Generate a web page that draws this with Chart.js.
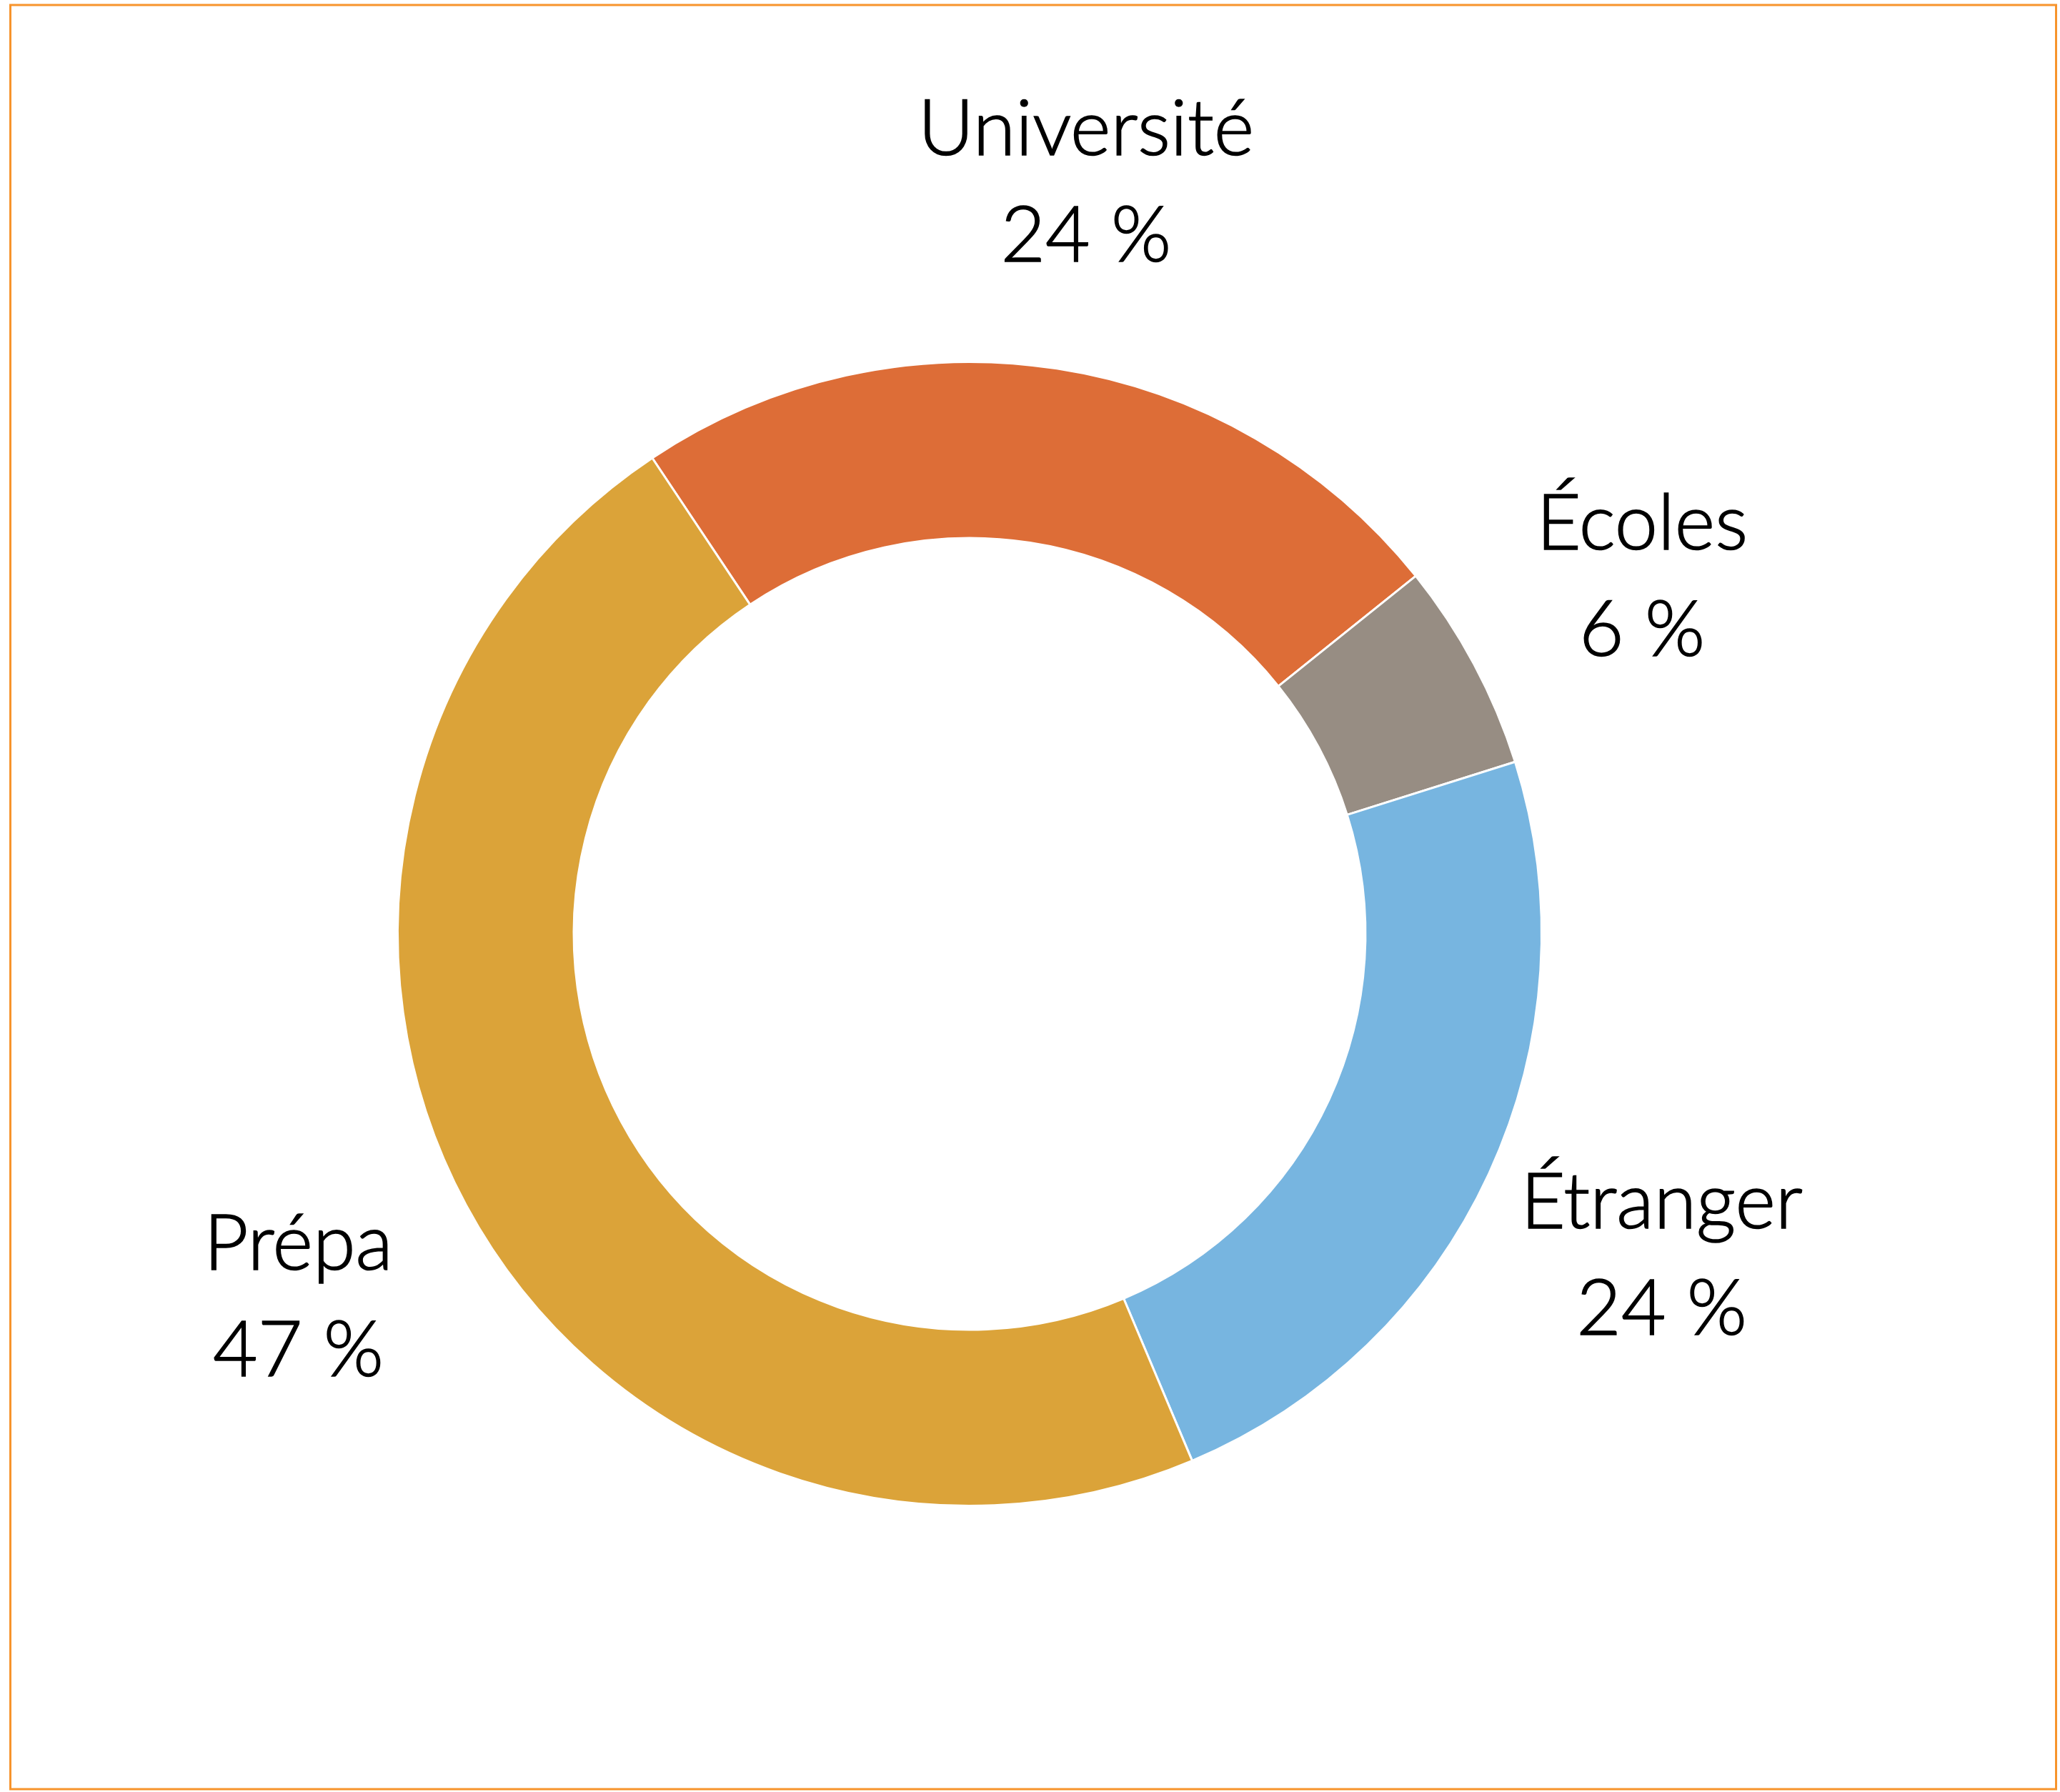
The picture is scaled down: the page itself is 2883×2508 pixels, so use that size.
<!DOCTYPE html>
<html>
<head>
<meta charset="utf-8">
<script src="https://cdn.jsdelivr.net/npm/chart.js@4/dist/chart.umd.min.js"></script>
<style>
  html, body { margin: 0; padding: 0; background: #fff; }
  canvas { display: block; }
</style>
</head>
<body>
<canvas id="donut" width="2883" height="2508"></canvas>
<script>
// ------------------------------------------------------------
// Données
// ------------------------------------------------------------
const categories = ["Université", "Écoles", "Étranger", "Prépa"];
const shares = [23.6, 5.9, 23.5, 47.0];
const shareLabels = ["24 %", "6 %", "24 %", "47 %"];
const colors = ["#DD6D37", "#978D83", "#77B5E0", "#DBA339"];

const LABEL_FONT = "300 108px Lato, 'Noto Sans', sans-serif";
const LINE_GAP = 149;
const CAP = 78;

// ------------------------------------------------------------
// Étiquettes extérieures + cadre
// ------------------------------------------------------------
const outsideLabels = {
  id: "outsideLabels",
  afterDatasetsDraw(chart) {
    const ctx = chart.ctx;
    const meta = chart.getDatasetMeta(0);
    ctx.save();
    ctx.font = LABEL_FONT;
    ctx.fillStyle = "#000";
    ctx.strokeStyle = "#000";
    ctx.lineWidth = 1.6;   // un peu plus gras que Lato Light
    ctx.textAlign = "center";
    ctx.textBaseline = "alphabetic";
    meta.data.forEach((arc, i) => {
      const p = arc.getProps(["x", "y", "startAngle", "endAngle", "outerRadius"], true);
      const mid = (p.startAngle + p.endAngle) / 2;
      const r = p.outerRadius * 1.333;
      const cx = p.x + Math.cos(mid) * r;
      const cy = p.y + Math.sin(mid) * r;
      const top = cy - (LINE_GAP + CAP) / 2;
      [[categories[i], top + CAP], [shareLabels[i], top + CAP + LINE_GAP]].forEach(([t, y]) => {
        ctx.fillText(t, cx, y);
        ctx.strokeText(t, cx, y);
      });
    });
    ctx.restore();
  },
  afterDraw(chart) {
    const ctx = chart.ctx;
    ctx.save();
    ctx.strokeStyle = "#F7942C";
    ctx.lineWidth = 3;
    ctx.strokeRect(14.5, 7, 2863, 2497);
    ctx.restore();
  }
};

new Chart(document.getElementById("donut").getContext("2d"), {
  type: "doughnut",
  data: {
    labels: categories,
    datasets: [{
      data: shares,
      backgroundColor: colors,
      borderColor: "#ffffff",
      borderWidth: 3,
      hoverOffset: 0
    }]
  },
  options: {
    responsive: false,
    maintainAspectRatio: false,
    animation: false,
    devicePixelRatio: 1,
    rotation: -33.7,
    cutout: "69.2%",
    events: [],
    layout: {
      padding: { left: 555, top: 505, right: 724, bottom: 399 }
    },
    plugins: {
      legend: { display: false },
      tooltip: { enabled: false }
    }
  },
  plugins: [outsideLabels]
});
</script>
</body>
</html>
